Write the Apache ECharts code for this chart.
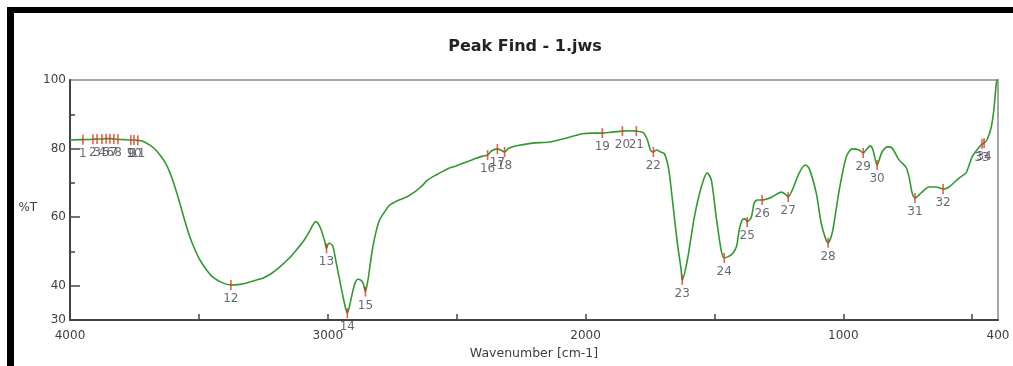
<!DOCTYPE html>
<html>
<head>
<meta charset="utf-8">
<script src="https://cdn.jsdelivr.net/npm/echarts@6/dist/echarts.min.js"></script>
<style>
  html, body { margin: 0; padding: 0; background: #ffffff; }
  #chart { width: 1013px; height: 366px; }
</style>
</head>
<body>
<div id="chart"></div>
<script>
// IR spectrum: wavenumber (cm-1) and transmittance (%T)
const wavenumbers = [
  4000, 3960, 3950, 3911, 3895, 3876, 3860, 3845, 3830, 3814, 3790, 3764, 3752, 3737, 3720,
  3690, 3670, 3651, 3630, 3612, 3593, 3574, 3555, 3535, 3515, 3496, 3470, 3446, 3410, 3376,
  3340, 3314, 3280, 3252, 3220, 3186, 3150, 3121, 3090, 3070, 3057, 3048, 3038, 3025, 3012, 3005,
  2998, 2992, 2980, 2968, 2954, 2940, 2930, 2924, 2913, 2902, 2892, 2883, 2872, 2863, 2854,
  2844, 2835, 2825, 2812, 2799, 2780, 2760, 2730, 2694, 2660, 2644, 2630, 2613, 2580, 2550,
  2528, 2500, 2462, 2430, 2400, 2380, 2365, 2342, 2330, 2314, 2300, 2268, 2206, 2140, 2074,
  2012, 1975, 1935, 1900, 1857, 1830, 1803, 1775, 1760, 1748, 1737, 1725, 1708, 1694, 1683, 1675,
  1663, 1644, 1629, 1625, 1605, 1578, 1551, 1528, 1512, 1493, 1474, 1462, 1435, 1415, 1404,
  1392, 1381, 1373, 1357, 1346, 1334, 1315, 1276, 1241, 1222, 1214, 1198, 1171, 1148, 1133,
  1105, 1086, 1067, 1059, 1043, 1028, 1016, 989, 966, 939, 923, 912, 896, 885, 869,
  850, 830, 811, 784, 757, 745, 733, 722, 699, 668, 640, 613, 590, 551, 524,
  501, 482, 462, 454, 443, 427, 416, 408, 404, 400
];
const transmittance = [
  82.5, 82.6, 82.6, 82.7, 82.8, 82.8, 82.9, 82.9, 82.8, 82.7, 82.6, 82.5, 82.5, 82.4, 82.2,
  81.0, 79.8, 78.1, 75.8, 72.9, 68.8, 64.1, 59.0, 54.2, 50.5, 47.5, 44.6, 42.5, 40.9, 40.2,
  40.4, 40.8, 41.6, 42.2, 43.5, 45.5, 48.0, 50.5, 53.5, 56.0, 57.8, 58.7, 58.2, 56.2, 53.0, 50.9,
  52.2, 52.4, 51.4, 47.0, 41.7, 36.5, 33.2, 32.0, 35.0, 38.7, 41.2, 41.9, 41.6, 40.7, 38.3,
  41.7, 46.5, 51.4, 56.0, 59.2, 61.5, 63.5, 64.8, 65.9, 67.5, 68.5, 69.5, 70.8, 72.3, 73.5,
  74.3, 75.0, 76.1, 77.0, 77.8, 78.1, 79.3, 79.9, 79.6, 79.0, 80.0, 80.8, 81.6, 81.9, 83.1,
  84.3, 84.5, 84.5, 84.8, 85.1, 85.2, 85.1, 84.6, 82.5, 79.5, 79.0, 79.6, 79.0, 78.5, 76.0, 72.8,
  65.0, 52.5, 44.6, 41.7, 47.5, 60.0, 68.8, 72.9, 70.8, 60.0, 50.4, 48.1, 49.0, 51.3, 56.3,
  59.2, 59.5, 58.6, 60.0, 64.1, 65.0, 65.0, 65.9, 67.3, 66.5, 65.9, 67.9, 72.9, 75.2, 74.3,
  67.0, 58.3, 53.3, 52.5, 55.4, 62.1, 67.9, 77.5, 79.9, 79.6, 78.7, 79.6, 80.8, 79.6, 75.2,
  79.0, 80.5, 80.2, 76.7, 74.6, 71.7, 67.0, 65.6, 67.0, 68.8, 68.8, 68.2, 68.8, 71.4, 72.9,
  77.5, 79.6, 81.3, 81.6, 82.5, 86.0, 91.3, 98.0, 100.0, 100.0
];

// Peak-find results
const peakNumbers = [
  '1', '2', '3', '4', '5', '6', '7', '8', '9', '10', '11', '12', '13', '14', '15', '16', '17',
  '18', '19', '20', '21', '22', '23', '24', '25', '26', '27', '28', '29', '30', '31', '32', '33', '34'
];
const peakWavenumbers = [
  3950, 3911, 3895, 3876, 3860, 3845, 3830, 3814, 3764, 3752, 3737, 3376, 3005, 2924, 2854, 2380, 2342,
  2314, 1935, 1857, 1803, 1737, 1625, 1462, 1373, 1315, 1214, 1059, 923, 869, 722, 613, 462, 454
];
const peakTransmittance = [
  82.6, 82.7, 82.8, 82.8, 82.9, 82.9, 82.8, 82.7, 82.5, 82.5, 82.4, 40.2, 50.9, 32.0, 38.3, 78.1, 79.9,
  79.0, 84.5, 85.1, 85.1, 79.0, 41.7, 48.1, 58.6, 65.0, 65.9, 52.5, 78.7, 75.2, 65.6, 68.2, 81.3, 81.6
];

// Axis ticks and labels
const xLabelValues = [4000, 3000, 2000, 1000, 400];
const xTickValues = [3500, 3000, 2500, 2000, 1500, 1000, 500];
const yLabelValues = [30, 40, 60, 80, 100];
const yTickValues = [40, 50, 60, 70, 80, 90];
const yMajorTickValues = [40, 60, 80];

const chart = echarts.init(document.getElementById('chart'), null, { renderer: 'canvas' });

const labelFont = { fontFamily: 'DejaVu Sans', fontSize: 12, color: '#3c3c48' };

const option = {
  backgroundColor: '#ffffff',
  animation: false,
  title: {
    text: 'Peak Find - 1.jws',
    left: 520,
    top: 34,
    textAlign: 'center',
    textStyle: { fontFamily: 'DejaVu Sans', fontWeight: 'bold', fontSize: 16, color: '#222222' }
  },
  graphic: [
    { type: 'rect', shape: { x: 7, y: 7, width: 1006, height: 6 }, style: { fill: '#000000' }, z: 100 },
    { type: 'rect', shape: { x: 7, y: 7, width: 7, height: 359 }, style: { fill: '#000000' }, z: 100 }
  ],
  grid: {
    left: 70, right: 15, top: 80, bottom: 46,
    show: true, borderColor: '#a6a6a6', borderWidth: 2, backgroundColor: 'transparent'
  },
  xAxis: {
    type: 'value',
    min: 400, max: 4000,
    inverse: true,
    name: 'Wavenumber [cm-1]',
    nameLocation: 'middle',
    nameGap: 34,
    nameTextStyle: { fontFamily: 'DejaVu Sans', fontSize: 12.5, color: '#3c3c48', verticalAlign: 'middle' },
    axisLine: { show: true, onZero: false, lineStyle: { color: '#444444', width: 2 } },
    axisTick: { show: true, inside: true, length: 6, customValues: xTickValues, lineStyle: { color: '#444444', width: 1.5 } },
    axisLabel: Object.assign({ customValues: xLabelValues, margin: 10, formatter: v => String(v) }, labelFont),
    splitLine: { show: false }
  },
  yAxis: [
    {
      type: 'value',
      min: 30, max: 100,
      name: '%T',
      nameLocation: 'middle',
      nameRotate: 0,
      nameGap: 42,
      nameTextStyle: { fontFamily: 'DejaVu Sans', fontSize: 12, color: '#3c3c48', align: 'center', verticalAlign: 'top', padding: [2, 0, 0, 0] },
      axisLine: { show: true, onZero: false, lineStyle: { color: '#444444', width: 2 } },
      axisTick: { show: true, inside: true, length: 5, customValues: yTickValues, lineStyle: { color: '#444444', width: 1.5 } },
      axisLabel: Object.assign({ customValues: yLabelValues, margin: 4, formatter: v => String(v) }, labelFont),
      splitLine: { show: false }
    },
    {
      type: 'value',
      min: 30, max: 100,
      position: 'left',
      axisLine: { show: false },
      axisTick: { show: true, inside: true, length: 10, customValues: yMajorTickValues, lineStyle: { color: '#444444', width: 1.5 } },
      axisLabel: { show: false },
      splitLine: { show: false }
    }
  ],
  series: [
    {
      name: 'Spectrum',
      type: 'line',
      data: wavenumbers.map((w, i) => [w, transmittance[i]]),
      showSymbol: false,
      smooth: 0.25,
      lineStyle: { color: '#2f9a2f', width: 1.6 },
      z: 2
    },
    {
      name: 'Peaks',
      type: 'scatter',
      data: peakWavenumbers.map((w, i) => ({ value: [w, peakTransmittance[i]], name: peakNumbers[i] })),
      symbol: 'rect',
      symbolSize: [1.6, 10],
      itemStyle: { color: '#e8321e' },
      clip: false,
      label: {
        show: true,
        position: 'bottom',
        distance: 3,
        formatter: p => p.name,
        fontFamily: 'DejaVu Sans',
        fontSize: 12,
        color: '#44444f'
      },
      z: 3
    }
  ]
};

chart.setOption(option);
</script>
</body>
</html>
